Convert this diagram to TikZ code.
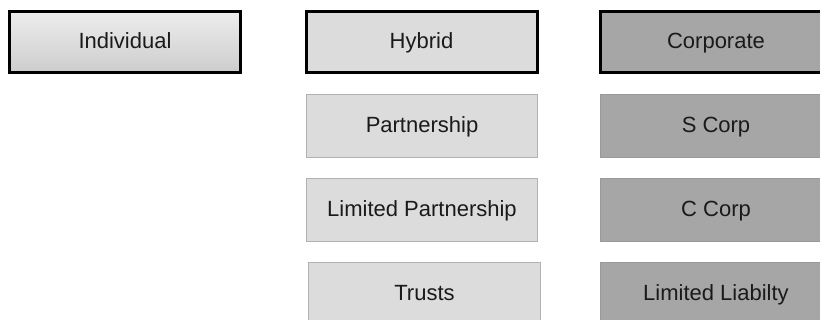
\documentclass[tikz,border=0pt]{standalone}
\usepackage{fontspec}
\setmainfont{Liberation Sans}
\definecolor{lightfill}{HTML}{DCDCDC}
\definecolor{darkfill}{HTML}{A6A6A6}
\definecolor{gradtop}{HTML}{EDEDED}
\definecolor{gradbot}{HTML}{CDCDCD}
\definecolor{thinline}{HTML}{B2B2B2}
\definecolor{thinlinedark}{HTML}{999999}
\definecolor{labeltext}{HTML}{1A1A1A}
\tikzset{
  entity/.style={rectangle, minimum height=64pt, inner sep=0pt,
    text height=16.5pt, text depth=3.5pt,
    font=\fontsize{22}{24}\selectfont, text=labeltext},
  header/.style={entity, draw=black, line width=3pt,
    minimum width=231pt, minimum height=61pt},
  member/.style={entity, draw=thinline, line width=1pt,
    minimum width=231pt, minimum height=63pt},
  hybridfill/.style={fill=lightfill},
  corpfill/.style={fill=darkfill},
}
\begin{document}
\begin{tikzpicture}[x=1pt, y=-1pt]
  \useasboundingbox (0,0) rectangle (820,320);
  \clip (0,0) rectangle (820,320);
  \fill[white] (0,0) rectangle (820,320);

  % column headers
  \node[header, top color=gradtop, bottom color=gradbot] (individual) at (125,42) {Individual};
  \node[header, hybridfill] (hybrid) at (421.5,42) {Hybrid};
  \node[header, corpfill] (corporate) at (716,42) {Corporate};

  % hybrid forms
  \node[member, hybridfill] (partnership) at (422,126) {Partnership};
  \node[member, hybridfill] (limpartner) at (422,210) {Limited Partnership};
  \node[member, hybridfill, minimum width=232pt] (trusts) at (424.5,294) {Trusts};

  % corporate forms
  \node[member, corpfill, draw=thinlinedark] (scorp) at (716,126) {S Corp};
  \node[member, corpfill, draw=thinlinedark] (ccorp) at (716,210) {C Corp};
  \node[member, corpfill, draw=thinlinedark] (limliab) at (716,294) {Limited Liabilty};
\end{tikzpicture}
\end{document}
